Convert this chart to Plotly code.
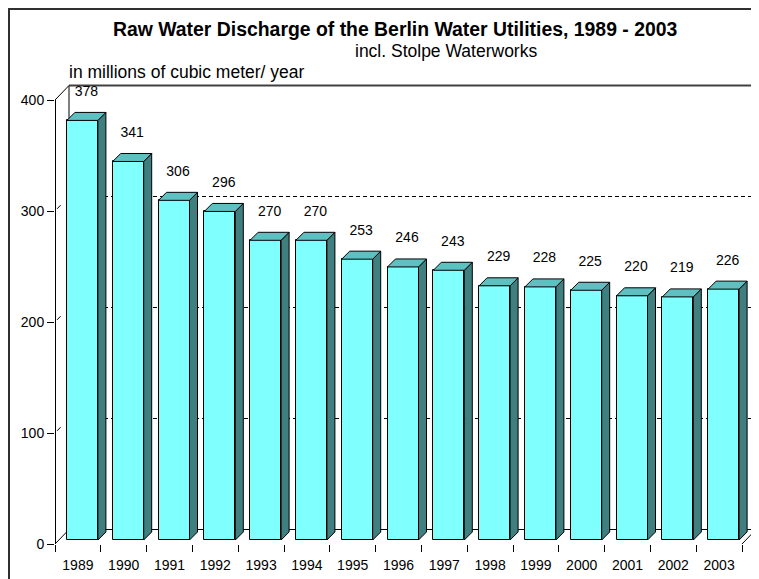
import plotly.graph_objects as go

# ---- data ----
years = ["1989", "1990", "1991", "1992", "1993", "1994", "1995", "1996",
         "1997", "1998", "1999", "2000", "2001", "2002", "2003"]
discharge = [378, 341, 306, 296, 270, 270, 253, 246, 243, 229, 228, 225, 220, 219, 226]
y_ticks = [0, 100, 200, 300, 400]
grid_vals = [100, 200, 300]

# ---- geometry / style ----
OFF = 8  # page body margin
W, H = 759, 579
L = 55 - OFF
T = 83 - OFF
B = H - (544 - OFF)
R = W - (757 - OFF)
PXX, PXY = 45.8, 1.11
plot_w, plot_h = W - L - R, H - T - B
x_lo = -0.5
x_hi = x_lo + plot_w / PXX
y_lo, y_hi = 0, plot_h / PXY

n = len(years)
x_first, x_last = -0.5, n - 0.5
wall_dx, wall_dy = 14 / PXX, 14.5 / PXY
bar_w = 31 / PXX
bar_sx = 4.5 / PXX
bar_base = 4 / PXY
bar_dx, bar_dy = 8 / PXX, 8 / PXY
y_top = max(y_ticks)
half_x, half_y = 0.5 / PXX, 0.5 / PXY  # half-pixel nudges for crisp lines

FRONT, TOP, SIDE = "#80FFFF", "#5EC0C0", "#3F7F7F"
FONT = "Liberation Sans, Arial, sans-serif"


def px_x(p):
    return (p - OFF - L) / plot_w


def px_y(p):
    return (H - B - (p - OFF)) / plot_h


xs = list(range(n))
fig = go.Figure()

# front faces
fig.add_trace(go.Bar(
    x=[i + bar_sx for i in xs], y=discharge, base=bar_base, width=bar_w,
    marker=dict(color=FRONT, line=dict(color="black", width=1)),
    hoverinfo="skip", showlegend=False))

# side and top faces
sx, sy, tx, ty = [], [], [], []
for i, v in zip(xs, discharge):
    xr = i + bar_sx + bar_w / 2
    xl = xr - bar_w
    b = bar_base
    t = b + v
    sx += [xr, xr, xr + bar_dx, xr + bar_dx, xr, None]
    sy += [b, t, t + bar_dy, b + bar_dy, b, None]
    tx += [xl, xr, xr + bar_dx, xl + bar_dx, xl, None]
    ty += [t, t, t + bar_dy, t + bar_dy, t, None]

fig.add_trace(go.Scatter(x=sx, y=sy, mode="lines", fill="toself", fillcolor=SIDE,
                         line=dict(color="black", width=1), hoverinfo="skip", showlegend=False))
fig.add_trace(go.Scatter(x=tx, y=ty, mode="lines", fill="toself", fillcolor=TOP,
                         line=dict(color="black", width=1), hoverinfo="skip", showlegend=False))

# value labels
fig.add_trace(go.Scatter(
    x=[i + bar_sx + bar_dx / 2 for i in xs],
    y=[bar_base + v + bar_dy + 18 for v in discharge],
    mode="text", text=[str(v) for v in discharge],
    textposition="middle center",
    textfont=dict(family=FONT, size=14, color="black"),
    cliponaxis=False, hoverinfo="skip", showlegend=False))

shapes = []


def seg(x0, y0, x1, y1, width=1, color="black", dash=None, layer="below"):
    d = dict(type="line", xref="x", yref="y", x0=x0, y0=y0, x1=x1, y1=y1,
             line=dict(color=color, width=width), layer=layer)
    if dash:
        d["line"]["dash"] = dash
    shapes.append(d)


# back wall grid lines (dashed)
for g in grid_vals:
    seg(x_first + wall_dx, g + wall_dy, x_last + wall_dx, g + wall_dy, dash="4px,3px")
    seg(x_first + 0.15 * wall_dx, g + 0.15 * wall_dy, x_first + 0.4 * wall_dx, g + 0.4 * wall_dy)

# back wall frame
seg(x_first + wall_dx, wall_dy, x_first + wall_dx, y_top + wall_dy)
seg(x_first + wall_dx, wall_dy, x_last + wall_dx, wall_dy)
seg(x_first + wall_dx, y_top + wall_dy, x_last + wall_dx, y_top + wall_dy, width=2, color="#404040")
seg(x_last + wall_dx, wall_dy, x_last + wall_dx, y_top + wall_dy, width=2, color="#404040")
seg(x_first, y_top, x_first + wall_dx, y_top + wall_dy)
seg(x_first, 0, x_first + wall_dx, wall_dy)
seg(x_last, 0, x_last + wall_dx, wall_dy)
# front axes
seg(x_first + half_x, -half_y, x_first + half_x, y_top, layer="above")
seg(x_first, -half_y, x_last, -half_y, layer="above")

# outer border (figure edge)
shapes.append(dict(type="rect", xref="paper", yref="paper",
                   x0=px_x(OFF + 1), x1=px_x(W + 20), y0=px_y(H + 20), y1=px_y(OFF + 1),
                   line=dict(color="#303030", width=2), layer="below"))

annotations = [
    dict(text="<b>Raw Water Discharge of the Berlin Water Utilities, 1989 - 2003</b>",
         xref="paper", yref="paper", x=px_x(395), y=px_y(29), xanchor="center", yanchor="middle",
         showarrow=False, font=dict(family=FONT, size=19.4, color="black")),
    dict(text="incl. Stolpe Waterworks",
         xref="paper", yref="paper", x=px_x(446), y=px_y(51), xanchor="center", yanchor="middle",
         showarrow=False, font=dict(family=FONT, size=17.5, color="black")),
    dict(text="in millions of cubic meter/ year",
         xref="paper", yref="paper", x=px_x(67), y=px_y(72), xanchor="left", yanchor="middle",
         showarrow=False, font=dict(family=FONT, size=17.5, color="black")),
]

fig.update_layout(
    width=W, height=H,
    margin=dict(l=L, r=R, t=T, b=B, pad=0),
    paper_bgcolor="white", plot_bgcolor="white",
    showlegend=False, bargap=0,
    shapes=shapes, annotations=annotations,
    xaxis=dict(range=[x_lo, x_hi], showgrid=False, zeroline=False, showline=False,
               tickmode="array", tickvals=xs, ticktext=years,
               ticks="outside", ticklen=8, tickcolor="rgba(0,0,0,0)",
               tickfont=dict(family=FONT, size=14, color="black"),
               minor=dict(tickmode="array", tickvals=[i - 0.5 for i in range(n + 1)],
                          ticks="outside", ticklen=7, tickcolor="black", tickwidth=1,
                          showgrid=False),
               fixedrange=True),
    yaxis=dict(range=[y_lo, y_hi], showgrid=False, zeroline=False, showline=False,
               tickmode="array", tickvals=y_ticks,
               ticks="outside", ticklen=7, tickcolor="black", tickwidth=1,
               tickfont=dict(family=FONT, size=14, color="black"),
               fixedrange=True),
)

fig.write_html("out.html")
